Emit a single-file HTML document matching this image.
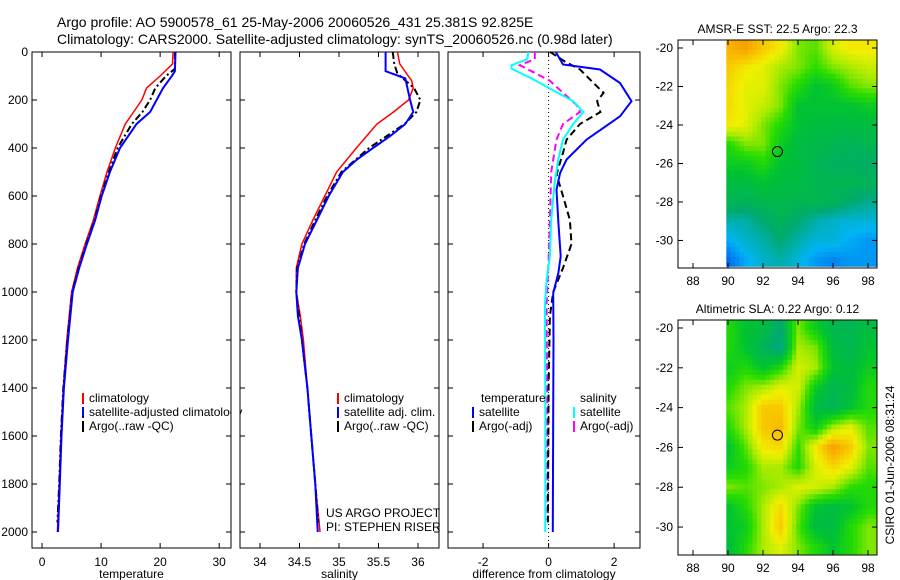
<!DOCTYPE html>
<html><head><meta charset="utf-8"><style>
body{margin:0;background:#fff}
svg{display:block;font-family:"Liberation Sans",sans-serif}
</style></head><body>
<svg id="fig" width="900" height="580" viewBox="0 0 900 580">
<text x="57" y="27" font-size="14">Argo profile: AO 5900578_61 25-May-2006 20060526_431 25.381S 92.825E</text>
<text x="57" y="44" font-size="14">Climatology: CARS2000. Satellite-adjusted climatology: synTS_20060526.nc (0.98d later)</text>
<text x="326" y="517" font-size="12">US ARGO PROJECT</text>
<text x="326" y="531" font-size="12">PI: STEPHEN RISER</text>
<text transform="translate(894,465) rotate(-90)" text-anchor="middle" font-size="12">CSIRO 01-Jun-2006 08:31:24</text>
</svg>
<script>
const NS="http://www.w3.org/2000/svg";
const svg=document.getElementById('fig');
function mk(tag,attrs,parent){const e=document.createElementNS(NS,tag);for(const k in attrs)e.setAttribute(k,attrs[k]);(parent||svg).appendChild(e);return e;}
function txt(s,x,y,attrs){const t=mk('text',Object.assign({x:x,y:y,'font-size':12},attrs||{}));t.textContent=s;return t;}

// ---- data ----
const tempClimDepth=[0,50,100,150,200,250,300,400,500,600,700,800,900,1000,1100,1200,1400,1600,1800,2000];
const tempClim=[22.2,22.1,20.0,17.7,16.9,15.5,14.1,12.4,11.0,9.8,8.7,7.3,6.0,5.0,4.6,4.2,3.6,3.2,2.9,2.6];
const tempSatDepth=[0,80,100,150,200,250,300,400,500,600,700,800,900,1000,1200,1400,1600,1800,2000];
const tempSat=[22.6,22.5,22.0,20.5,19.4,18.3,16.0,13.2,11.5,10.1,9.0,7.6,6.3,5.2,4.4,3.7,3.3,3.0,2.7];
const tempArgoDepth=[0,70,100,150,200,250,300,400,500,600,700,800,900,1000,1200,1400,1600,1800,1960];
const tempArgo=[22.5,22.5,21.0,19.2,18.3,17.0,15.2,12.8,11.3,10.0,8.9,7.5,6.2,5.1,4.3,3.6,3.2,2.9,2.6];

const salClimDepth=[0,50,120,150,200,250,300,400,500,600,700,800,900,1000,1100,1200,1400,1600,1800,2000];
const salClim=[35.74,35.77,35.92,35.94,35.88,35.69,35.48,35.22,34.97,34.82,34.67,34.53,34.46,34.46,34.51,34.55,34.6,34.65,34.7,34.76];
const salSatDepth=[0,80,110,200,250,300,350,400,450,500,600,700,800,900,1000,1100,1200,1400,1600,1800,2000];
const salSat=[35.59,35.59,35.84,35.9,35.94,35.84,35.65,35.43,35.22,35.05,34.87,34.72,34.57,34.48,34.46,34.48,34.53,34.6,34.65,34.7,34.73];
const salArgoDepth=[0,50,90,150,200,250,300,400,500,600,700,800,900,1000,1200,1400,1600,1800,1960];
const salArgo=[35.68,35.7,35.74,35.95,36.03,35.98,35.83,35.38,35.03,34.85,34.7,34.56,34.47,34.46,34.53,34.6,34.65,34.7,34.74];

const dTempSatDepth=[0,52,73,129,205,268,365,448,504,573,712,851,920,1004,1200,1500,2000];
const dTempSat=[0.22,0.44,1.57,2.18,2.53,2.18,1.16,0.55,0.35,0.24,0.3,0.37,0.3,0.14,0.15,0.14,0.13];
const dTempArgoDepth=[0,40,73,129,170,205,250,300,365,420,510,600,700,800,900,1000,1100,1400,1960];
const dTempArgo=[0.05,0.5,0.96,1.37,1.68,1.48,1.58,0.96,0.55,0.44,0.24,0.44,0.65,0.7,0.44,0.14,0.04,0.0,-0.02];
const dSalSatDepth=[0,30,55,70,110,160,205,250,300,365,450,550,700,850,950,1050,1500,2000];
const dSalSat=[-0.62,-0.65,-1.13,-1.13,-0.52,0.14,0.75,1.06,0.75,0.44,0.29,0.18,0.08,0.04,-0.06,-0.11,-0.1,-0.1];
const dSalArgoDepth=[0,30,55,80,120,170,220,250,300,365,500,700,900,1050,1500,1950];
const dSalArgo=[-0.42,-0.42,-0.88,-0.52,0.04,0.44,0.85,0.96,0.44,0.24,0.08,0.04,-0.01,-0.06,-0.04,-0.03];

const depthTicks=[0,200,400,600,800,1000,1200,1400,1600,1800,2000];
const tempTicks=[0,10,20,30];
const salTicks=[34,34.5,35,35.5,36];
const salTickLabels=['34','34.5','35','35.5','36'];
const diffTicks=[-2,0,2];

const lonTicks=[88,90,92,94,96,98];
const latTicks=[-20,-22,-24,-26,-28,-30];
const gridLons=[90,91,92,93,94,95,96,97,98];
const gridLats=[-20,-21,-22,-23,-24,-25,-26,-27,-28,-29,-30,-31];
const sstGrid=[
[.75,.78,.72,.68,.6,.58,.65,.68,.68],
[.72,.68,.66,.62,.6,.56,.6,.62,.64],
[.7,.66,.66,.6,.55,.5,.52,.58,.6],
[.7,.66,.64,.6,.5,.5,.5,.5,.52],
[.68,.66,.6,.55,.5,.48,.48,.48,.48],
[.55,.6,.6,.52,.48,.47,.46,.45,.46],
[.52,.52,.55,.5,.48,.46,.44,.44,.43],
[.48,.48,.5,.48,.48,.46,.46,.46,.45],
[.46,.45,.46,.47,.46,.46,.45,.42,.4],
[.38,.38,.42,.45,.42,.38,.36,.35,.35],
[.32,.36,.38,.42,.38,.35,.35,.32,.3],
[.25,.32,.36,.38,.35,.3,.28,.3,.3]];
const slaGrid=[
[.55,.5,.48,.42,.6,.52,.46,.46,.48],
[.55,.5,.45,.4,.62,.6,.48,.46,.5],
[.52,.55,.5,.55,.65,.62,.5,.48,.52],
[.55,.6,.62,.66,.65,.52,.46,.48,.55],
[.58,.62,.72,.72,.62,.48,.45,.5,.55],
[.55,.62,.72,.74,.6,.52,.62,.66,.58],
[.5,.58,.68,.7,.56,.68,.78,.72,.6],
[.52,.55,.62,.62,.55,.65,.7,.66,.58],
[.6,.58,.6,.62,.66,.65,.62,.56,.55],
[.5,.55,.62,.7,.6,.5,.48,.5,.55],
[.5,.52,.62,.72,.58,.48,.48,.55,.6],
[.48,.55,.62,.66,.6,.55,.5,.55,.6]];
const floatLon=92.825, floatLat=-25.381;

// ---- profile panels ----
const PT=52, PB=548;
const yD=d=>PT+d*0.24;
function panel(name,x0,x1,xmin,xmax,ticks,labels,xlabel,ylabels){
  const sx=v=>x0+(v-xmin)/(xmax-xmin)*(x1-x0);
  const g=mk('g',{});
  
  
  mk('rect',{x:x0,y:PT,width:x1-x0,height:PB-PT,fill:'none',stroke:'#000','stroke-width':1},g);
  ticks.forEach((t,i)=>{
    const x=sx(t);
    mk('line',{x1:x,x2:x,y1:PT,y2:PT+5,stroke:'#000'},g);
    mk('line',{x1:x,x2:x,y1:PB,y2:PB-5,stroke:'#000'},g);
    const l=txt(labels[i],x,566,{'text-anchor':'middle'});g.appendChild(l);
  });
  depthTicks.forEach(d=>{
    const y=yD(d);
    mk('line',{x1:x0,x2:x0+5,y1:y,y2:y,stroke:'#000'},g);
    mk('line',{x1:x1,x2:x1-5,y1:y,y2:y,stroke:'#000'},g);
    if(ylabels){const l=txt(String(d),x0-4,y+4,{'text-anchor':'end'});g.appendChild(l);}
  });
  const xl=txt(xlabel,(x0+x1)/2,578,{'text-anchor':'middle'});g.appendChild(xl);
  return {g,sx};
}
function line(p,depths,vals,color,w,dash,name){
  const pts=depths.map((d,i)=>p.sx(vals[i]).toFixed(1)+','+yD(d).toFixed(1)).join(' ');
  const a={points:pts,fill:'none',stroke:color,'stroke-width':w};
  if(dash)a['stroke-dasharray']=dash;
  const l=mk('polyline',a,p.g);
  
  
}
function legend(g,x,y,entries){
  entries.forEach((e,i)=>{
    const yy=y+i*14;
    mk('line',{x1:x,x2:x,y1:yy-9,y2:yy+2,stroke:e[1],'stroke-width':2},g);
    const t=txt(e[0],x+6,yy,{});g.appendChild(t);
  });
}
const p1=panel('temperature-panel',32,231,-1.7,32,tempTicks,tempTicks.map(String),'temperature',true);
line(p1,tempClimDepth,tempClim,'#f00',1.5,null,'temp-climatology-line');
line(p1,tempArgoDepth,tempArgo,'#000',2,'7,3,2,3','temp-argo-line');
line(p1,tempSatDepth,tempSat,'#00f',2,null,'temp-satellite-line');
legend(p1.g,83,402,[['climatology','#f00'],['satellite-adjusted climatology','#00f'],['Argo(..raw -QC)','#000']]);
mk('rect',{x:231.5,y:380,width:8,height:60,fill:'#fff'});

const p2=panel('salinity-panel',240,439,33.747,36.266,salTicks,salTickLabels,'salinity',false);
line(p2,salClimDepth,salClim,'#f00',1.5,null,'sal-climatology-line');
line(p2,salArgoDepth,salArgo,'#000',2,'7,3,2,3','sal-argo-line');
line(p2,salSatDepth,salSat,'#00f',2,null,'sal-satellite-line');
legend(p2.g,338,402,[['climatology','#f00'],['satellite adj. clim.','#00f'],['Argo(..raw -QC)','#000']]);

const p3=panel('difference-panel',448,640,-3.07,2.79,diffTicks,diffTicks.map(String),'difference from climatology',false);
mk('line',{x1:p3.sx(0),x2:p3.sx(0),y1:PT,y2:PB,stroke:'#000','stroke-dasharray':'1,3'},p3.g);
line(p3,dSalArgoDepth,dSalArgo,'#f0f',2,'7,4','dsal-argo-line');
line(p3,dTempArgoDepth,dTempArgo,'#000',2,'7,4','dtemp-argo-line');
line(p3,dSalSatDepth,dSalSat,'#0ff',2,null,'dsal-satellite-line');
line(p3,dTempSatDepth,dTempSat,'#00f',2,null,'dtemp-satellite-line');
{const t=txt('temperature',481,402,{});p3.g.appendChild(t);const s=txt('salinity',580,402,{});p3.g.appendChild(s);}
legend(p3.g,473,416,[['satellite','#00f'],['Argo(-adj)','#000']]);
legend(p3.g,574,416,[['satellite','#0ff'],['Argo(-adj)','#f0f']]);

// ---- maps ----
const stops=[[0.2,[0,60,230]],[0.33,[0,180,245]],[0.42,[0,170,110]],[0.5,[0,195,50]],[0.56,[40,220,0]],[0.62,[170,235,0]],[0.67,[240,240,0]],[0.74,[250,185,0]],[0.85,[230,120,0]]];
function cmap(v){
  if(v<=stops[0][0])return stops[0][1];
  for(let i=1;i<stops.length;i++){if(v<=stops[i][0]){const a=stops[i-1],b=stops[i],t=(v-a[0])/(b[0]-a[0]);return a[1].map((c,k)=>Math.round(c+(b[1][k]-c)*t));}}
  return stops[stops.length-1][1];
}
function interp(grid,lon,lat){
  const fx=Math.max(0,Math.min(gridLons.length-1.001,lon-gridLons[0]));
  const fy=Math.max(0,Math.min(gridLats.length-1.001,gridLats[0]-lat));
  const i=Math.floor(fx),j=Math.floor(fy),tx=fx-i,ty=fy-j;
  const a=grid[j][i],b=grid[j][i+1],c=grid[j+1][i],d=grid[j+1][i+1];
  return a*(1-tx)*(1-ty)+b*tx*(1-ty)+c*(1-tx)*ty+d*tx*ty;
}
function mapPanel(name,grid,top,bottom,title){
  const L=678,R=877;
  const sx=lon=>693+(lon-88)*17.5;
  const sy=lat=>top+8+(-20-lat)*(bottom-top-24)/10.6;
  const g=mk('g',{});
  
  
  const step=0.25;
  for(let lat=-19.6;lat>-31.3;lat-=step){
    for(let lon=89.9;lon<98.5;lon+=step){
      const v=interp(grid,lon+step/2,lat-step/2);
      const c=cmap(v);
      const x=sx(lon),y=sy(lat);
      const w=sx(lon+step)-x+0.4,h=sy(lat-step)-y+0.4;
      const r=mk('rect',{x:x.toFixed(1),y:Math.max(top,y).toFixed(1),width:Math.min(w,R-x).toFixed(1),height:Math.max(0,Math.min(h,bottom-y,y+h-top)).toFixed(1),fill:'rgb('+c.join(',')+')'},g);
      
      
    }
  }
  mk('rect',{x:L,y:top,width:R-L,height:bottom-top,fill:'none',stroke:'#000'},g);
  lonTicks.forEach(t=>{const x=sx(t);mk('line',{x1:x,x2:x,y1:bottom,y2:bottom-5,stroke:'#000'},g);mk('line',{x1:x,x2:x,y1:top,y2:top+5,stroke:'#000'},g);const l=txt(String(t),x,bottom+17,{'text-anchor':'middle'});g.appendChild(l);});
  latTicks.forEach(t=>{const y=sy(t);mk('line',{x1:L,x2:L+5,y1:y,y2:y,stroke:'#000'},g);mk('line',{x1:R,x2:R-5,y1:y,y2:y,stroke:'#000'},g);const l=txt(String(t),L-5,y+4,{'text-anchor':'end'});g.appendChild(l);});
  const c=mk('circle',{cx:sx(floatLon),cy:sy(floatLat),r:5,fill:'none',stroke:'#000'},g);
  
  
  const tt=txt(title,(L+R)/2,top-7,{'text-anchor':'middle'});g.appendChild(tt);
}
mapPanel('sst-map',sstGrid,40,268,'AMSR-E SST: 22.5 Argo: 22.3');
mapPanel('sla-map',slaGrid,320,555,'Altimetric SLA: 0.22 Argo: 0.12');
</script>
</body></html>
